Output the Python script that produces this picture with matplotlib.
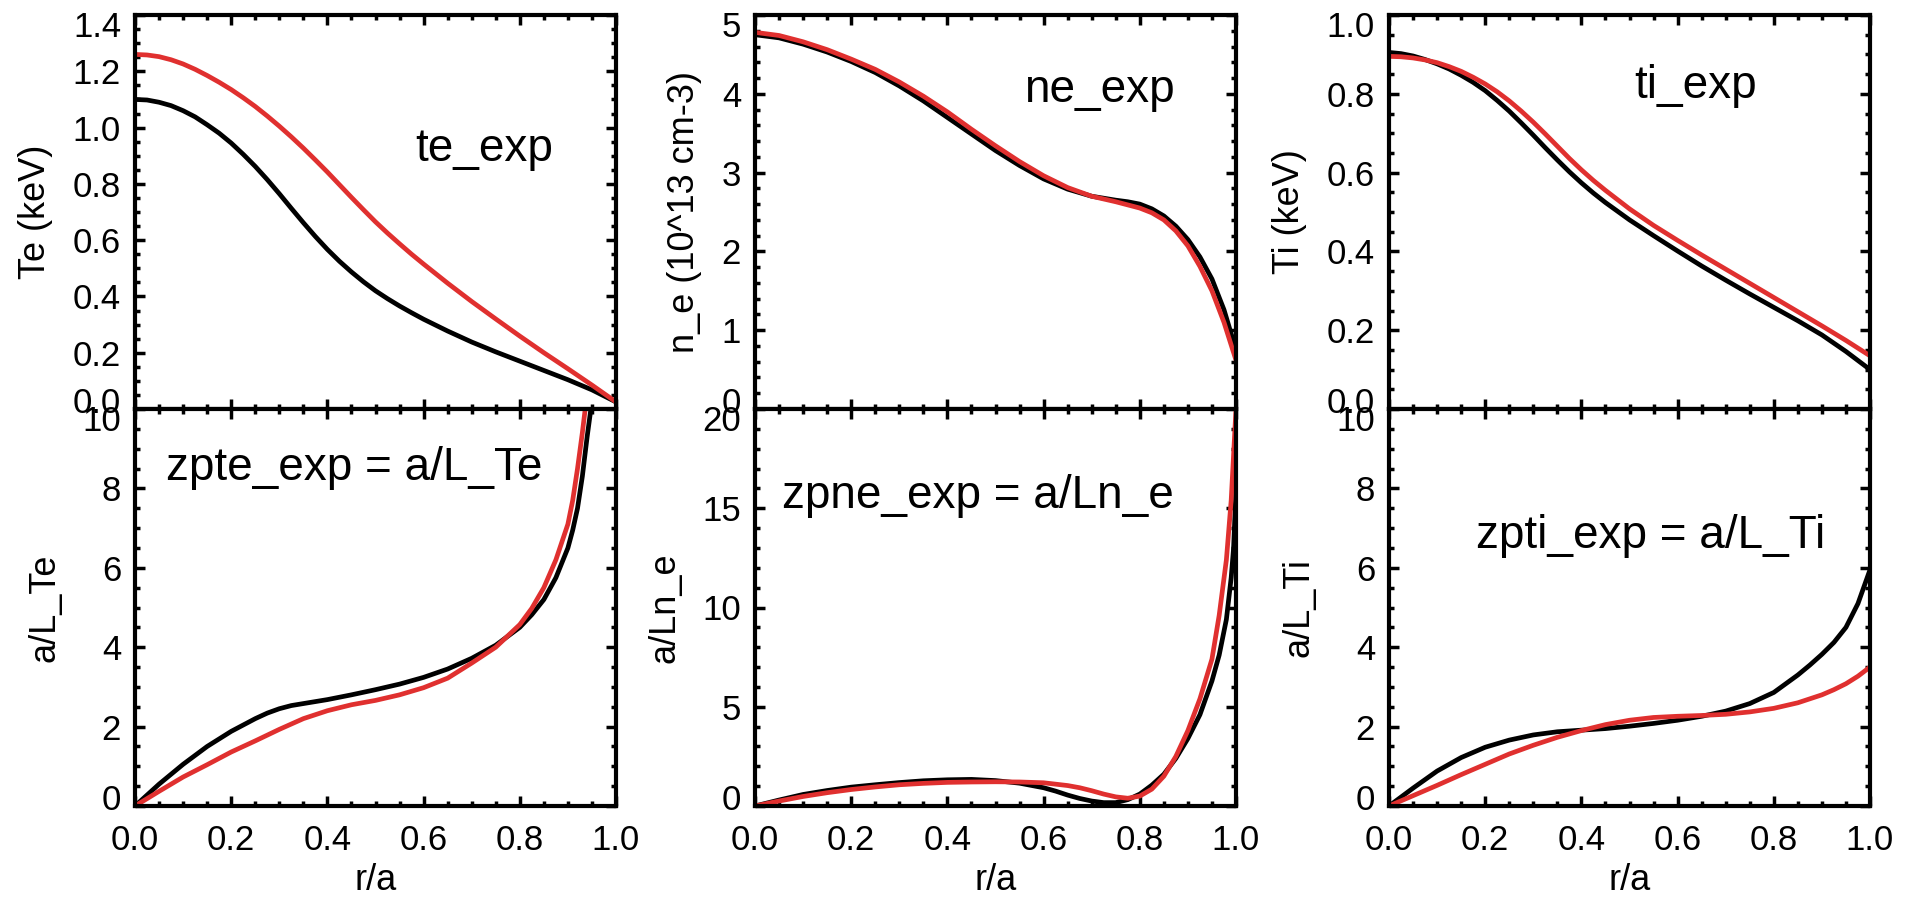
import numpy as np
import matplotlib
matplotlib.use('Agg')
import matplotlib.pyplot as plt
from matplotlib.ticker import MultipleLocator
from matplotlib.transforms import ScaledTranslation

plt.rcParams['font.family'] = ['Liberation Sans', 'DejaVu Sans']

# ---------------- data ----------------
r_te = [0.0, 0.025, 0.05, 0.075, 0.1, 0.125, 0.15, 0.175, 0.2, 0.225, 0.25, 0.275,
        0.3, 0.325, 0.35, 0.375, 0.4, 0.425, 0.45, 0.475, 0.5, 0.525, 0.55, 0.575,
        0.6, 0.65, 0.7, 0.75, 0.8, 0.85, 0.9, 0.95, 1.0]
te_black = [1.100, 1.098, 1.090, 1.078, 1.060, 1.038, 1.010, 0.980, 0.945, 0.905, 0.862, 0.815,
            0.765, 0.713, 0.662, 0.613, 0.567, 0.525, 0.487, 0.452, 0.420, 0.392, 0.366, 0.342,
            0.319, 0.277, 0.238, 0.203, 0.170, 0.137, 0.104, 0.068, 0.025]
te_red = [1.260, 1.258, 1.252, 1.241, 1.226, 1.207, 1.185, 1.161, 1.135, 1.106, 1.075, 1.041,
          1.005, 0.967, 0.927, 0.885, 0.842, 0.797, 0.752, 0.708, 0.665, 0.625, 0.587, 0.550,
          0.515, 0.447, 0.382, 0.320, 0.259, 0.200, 0.143, 0.085, 0.025]

r_ne = [0.0, 0.05, 0.1, 0.15, 0.2, 0.25, 0.3, 0.35, 0.4, 0.45, 0.5, 0.55, 0.6, 0.65,
        0.7, 0.75, 0.775, 0.8, 0.825, 0.85, 0.875, 0.9, 0.925, 0.95, 0.975, 1.0]
ne_black = [4.75, 4.71, 4.63, 4.53, 4.41, 4.27, 4.10, 3.91, 3.70, 3.49, 3.28, 3.09, 2.92, 2.79,
            2.70, 2.65, 2.63, 2.60, 2.54, 2.45, 2.32, 2.15, 1.93, 1.65, 1.26, 0.75]
ne_red = [4.78, 4.74, 4.66, 4.56, 4.44, 4.31, 4.15, 3.97, 3.77, 3.55, 3.34, 3.14, 2.96, 2.81,
          2.70, 2.63, 2.59, 2.55, 2.49, 2.40, 2.26, 2.07, 1.81, 1.50, 1.10, 0.62]

r_ti = [0.0, 0.025, 0.05, 0.075, 0.1, 0.125, 0.15, 0.175, 0.2, 0.225, 0.25, 0.275,
        0.3, 0.325, 0.35, 0.375, 0.4, 0.425, 0.45, 0.5, 0.55, 0.6, 0.65, 0.7,
        0.75, 0.8, 0.85, 0.9, 0.95, 1.0]
ti_black = [0.905, 0.902, 0.896, 0.887, 0.876, 0.863, 0.847, 0.829, 0.808, 0.783, 0.756, 0.726,
            0.695, 0.663, 0.632, 0.602, 0.574, 0.548, 0.524, 0.480, 0.440, 0.401, 0.363, 0.327,
            0.292, 0.258, 0.224, 0.188, 0.146, 0.100]
ti_red = [0.895, 0.894, 0.891, 0.886, 0.879, 0.869, 0.857, 0.842, 0.825, 0.805, 0.782, 0.756,
          0.728, 0.698, 0.667, 0.636, 0.607, 0.580, 0.555, 0.508, 0.466, 0.428, 0.391, 0.355,
          0.319, 0.283, 0.247, 0.211, 0.174, 0.135]

r_zte_black = [0.0, 0.05, 0.1, 0.15, 0.2, 0.25, 0.275, 0.3, 0.325, 0.35, 0.4, 0.45, 0.5,
               0.55, 0.6, 0.65, 0.7, 0.75, 0.8, 0.825, 0.85, 0.875, 0.9, 0.91, 0.92,
               0.93, 0.94, 0.95, 0.96]
zte_black = [0.0, 0.55, 1.05, 1.5, 1.88, 2.2, 2.34, 2.45, 2.53, 2.58, 2.68, 2.8, 2.93,
             3.07, 3.24, 3.45, 3.72, 4.05, 4.5, 4.82, 5.2, 5.75, 6.5, 6.95, 7.5,
             8.3, 9.3, 10.2, 11.2]
r_zte_red = [0.0, 0.05, 0.1, 0.15, 0.2, 0.25, 0.3, 0.35, 0.4, 0.45, 0.5, 0.55, 0.6,
             0.65, 0.7, 0.75, 0.8, 0.825, 0.85, 0.875, 0.9, 0.91, 0.92, 0.93, 0.94, 0.95]
zte_red = [0.0, 0.37, 0.73, 1.04, 1.36, 1.64, 1.93, 2.2, 2.4, 2.55, 2.66, 2.8, 2.98,
           3.22, 3.6, 4.0, 4.57, 4.98, 5.5, 6.2, 7.1, 7.7, 8.5, 9.4, 10.4, 11.5]

r_zne_black = [0.0, 0.05, 0.1, 0.15, 0.2, 0.25, 0.3, 0.35, 0.4, 0.45, 0.5, 0.55, 0.6,
               0.625, 0.65, 0.675, 0.7, 0.725, 0.75, 0.775, 0.8, 0.825, 0.85, 0.875,
               0.9, 0.925, 0.95, 0.965, 0.98, 0.99, 0.995, 1.0]
zne_black = [0.0, 0.3, 0.58, 0.78, 0.95, 1.07, 1.18, 1.27, 1.32, 1.34, 1.28, 1.15, 0.92,
             0.75, 0.55, 0.38, 0.25, 0.17, 0.17, 0.32, 0.6, 1.05, 1.6, 2.4,
             3.4, 4.6, 6.3, 7.6, 9.4, 11.5, 13.0, 16.0]
r_zne_red = [0.0, 0.05, 0.1, 0.15, 0.2, 0.25, 0.3, 0.35, 0.4, 0.45, 0.5, 0.55, 0.6,
             0.65, 0.675, 0.7, 0.725, 0.75, 0.775, 0.8, 0.825, 0.85, 0.875, 0.9,
             0.925, 0.95, 0.965, 0.98, 0.99, 1.0]
zne_red = [0.0, 0.25, 0.48, 0.67, 0.83, 0.96, 1.07, 1.14, 1.19, 1.21, 1.22, 1.21, 1.17,
           1.03, 0.92, 0.77, 0.6, 0.46, 0.39, 0.5, 0.85, 1.5, 2.5, 3.8,
           5.4, 7.4, 9.6, 12.4, 15.4, 20.0]

r_zti = [0.0, 0.05, 0.1, 0.15, 0.2, 0.25, 0.3, 0.35, 0.4, 0.45, 0.5, 0.55, 0.6,
         0.65, 0.7, 0.75, 0.8, 0.85, 0.875, 0.9, 0.925, 0.95, 0.975, 1.0]
zti_black = [0.0, 0.45, 0.88, 1.22, 1.48, 1.66, 1.79, 1.87, 1.91, 1.95, 2.01, 2.08, 2.16,
             2.26, 2.39, 2.58, 2.86, 3.3, 3.55, 3.82, 4.12, 4.5, 5.1, 5.95]
zti_red = [0.0, 0.26, 0.52, 0.79, 1.05, 1.31, 1.53, 1.73, 1.9, 2.05, 2.16, 2.23, 2.26,
           2.28, 2.31, 2.37, 2.46, 2.6, 2.7, 2.8, 2.93, 3.08, 3.27, 3.5]

x_ticks = [0.0, 0.2, 0.4, 0.6, 0.8, 1.0]
x_ticklabels = ['0.0', '0.2', '0.4', '0.6', '0.8', '1.0']

RED = '#e0302f'
BLACK = '#000000'

W, H = 1915, 901
fig = plt.figure(figsize=(W / 100, H / 100), dpi=100)

cols_x = [135, 755, 1389]
panel_w = 481
top_y0, top_y1 = 15, 409
bot_y0, bot_y1 = 409, 806

TICK_FS = 25
LABEL_FS = 26
ANN_FS = 33
LW = 3.4


def make_ax(x0, y0, y1):
    return fig.add_axes([x0 / W, 1 - y1 / H, panel_w / W, (y1 - y0) / H])


def style(ax, ylim, ymajor, yminor, yfmt, show_x):
    ax.set_xlim(0, 1)
    ax.set_ylim(*ylim)
    ax.set_xticks(x_ticks)
    ax.xaxis.set_minor_locator(MultipleLocator(0.05))
    yt = list(np.arange(ylim[0], ylim[1] + ymajor / 2, ymajor))
    ax.set_yticks(yt)
    ax.set_yticklabels([yfmt.format(v) for v in yt])
    ax.yaxis.set_minor_locator(MultipleLocator(yminor))
    if show_x:
        ax.set_xticklabels(x_ticklabels)
        ax.set_xlabel('r/a', fontsize=LABEL_FS, labelpad=4)
    else:
        ax.set_xticklabels([])
    for s in ax.spines.values():
        s.set_linewidth(3.0)
    ax.tick_params(which='both', direction='in', top=True, right=True,
                   labelsize=TICK_FS)
    ax.tick_params(which='major', length=7, width=2.5)
    ax.tick_params(which='minor', length=3.5, width=2.5)
    ax.tick_params(axis='y', which='major', pad=10)
    ax.tick_params(axis='x', which='major', pad=13)
    # IDL-style: end labels pushed inside the axis range
    ticks = ax.yaxis.get_major_ticks()
    dy = 9 / 100
    lab = ticks[0].label1
    lab.set_transform(lab.get_transform() + ScaledTranslation(0, dy, fig.dpi_scale_trans))
    lab = ticks[-1].label1
    lab.set_transform(lab.get_transform() + ScaledTranslation(0, -dy, fig.dpi_scale_trans))


# ---- column 1 ----
ax = make_ax(cols_x[0], top_y0, top_y1)
ax.plot(r_te, te_black, color=BLACK, lw=LW)
ax.plot(r_te, te_red, color=RED, lw=LW)
style(ax, (0, 1.4), 0.2, 0.05, '{:.1f}', False)
ax.set_ylabel('Te (keV)', fontsize=LABEL_FS, labelpad=14)
ax.text(0.582, 0.88, 'te_exp', fontsize=ANN_FS, ha='left', va='baseline')

ax = make_ax(cols_x[0], bot_y0, bot_y1)
ax.plot(r_zte_black, zte_black, color=BLACK, lw=LW)
ax.plot(r_zte_red, zte_red, color=RED, lw=LW)
style(ax, (0, 10), 2, 0.5, '{:.0f}', True)
ax.set_ylabel('a/L_Te', fontsize=LABEL_FS, labelpad=14)
ax.text(0.065, 8.2, 'zpte_exp = a/L_Te', fontsize=ANN_FS, ha='left', va='baseline')

# ---- column 2 ----
ax = make_ax(cols_x[1], top_y0, top_y1)
ax.plot(r_ne, ne_black, color=BLACK, lw=LW)
ax.plot(r_ne, ne_red, color=RED, lw=LW)
style(ax, (0, 5), 1, 0.2, '{:.0f}', False)
ax.set_ylabel('n_e (10^13 cm-3)', fontsize=LABEL_FS, labelpad=14)
ax.text(0.56, 3.9, 'ne_exp', fontsize=ANN_FS, ha='left', va='baseline')

ax = make_ax(cols_x[1], bot_y0, bot_y1)
ax.plot(r_zne_black, zne_black, color=BLACK, lw=LW)
ax.plot(r_zne_red, zne_red, color=RED, lw=LW)
style(ax, (0, 20), 5, 1, '{:.0f}', True)
ax.set_ylabel('a/Ln_e', fontsize=LABEL_FS, labelpad=14)
ax.text(0.056, 15.0, 'zpne_exp = a/Ln_e', fontsize=ANN_FS, ha='left', va='baseline')

# ---- column 3 ----
ax = make_ax(cols_x[2], top_y0, top_y1)
ax.plot(r_ti, ti_black, color=BLACK, lw=LW)
ax.plot(r_ti, ti_red, color=RED, lw=LW)
style(ax, (0, 1.0), 0.2, 0.05, '{:.1f}', False)
ax.set_ylabel('Ti (keV)', fontsize=LABEL_FS, labelpad=14)
ax.text(0.51, 0.79, 'ti_exp', fontsize=ANN_FS, ha='left', va='baseline')

ax = make_ax(cols_x[2], bot_y0, bot_y1)
ax.plot(r_zti, zti_black, color=BLACK, lw=LW)
ax.plot(r_zti, zti_red, color=RED, lw=LW)
style(ax, (0, 10), 2, 0.5, '{:.0f}', True)
ax.set_ylabel('a/L_Ti', fontsize=LABEL_FS, labelpad=14)
ax.text(0.18, 6.5, 'zpti_exp = a/L_Ti', fontsize=ANN_FS, ha='left', va='baseline')

fig.savefig('out.png', dpi=100)
